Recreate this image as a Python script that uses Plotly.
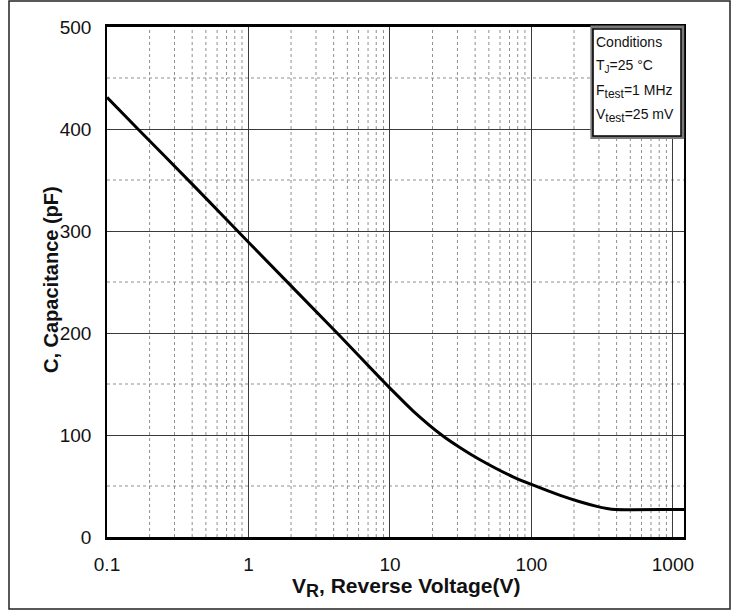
import math
import plotly.graph_objects as go

# Junction capacitance vs. reverse voltage at 25 °C
reverse_voltage = [0.1, 0.168, 0.4, 0.68, 1, 4.4, 8.5, 10, 14.6, 23.7, 31, 43, 74, 100,
                   158, 220, 290, 342, 390, 1000, 1200]
capacitance_pf = [431, 399, 346, 313, 289, 197.5, 156, 146, 123.5, 99, 88, 76, 59, 51.5,
                  41, 34.5, 30, 28, 27, 27, 27]

x_tick_vals = [0.1, 1, 10, 100, 1000]
x_tick_text = ["0.1", "1", "10", "100", "1000"]
y_tick_vals = [0, 100, 200, 300, 400, 500]
y_minor_vals = [50, 150, 250, 350, 450]
x_minor_vals = [m * d for d in (0.1, 1, 10, 100) for m in range(2, 10)]


def sub(s, px):
    return f'<sub><span style="font-size:{px}px">{s}</span></sub>'


conditions = ["Conditions",
              "T" + sub("J", 10) + "=25 °C",
              "F" + sub("test", 12) + "=1 MHz",
              "V" + sub("test", 12) + "=25 mV"]

W, H = 734, 611
ML, MR, MT, MB = 107, 50, 27, 74
PW, PH = W - ML - MR, H - MT - MB

FONT = "Liberation Sans, Arial, sans-serif"
INK = "#111111"


def px_x(px):
    return (px - ML) / PW


def px_y(py):
    return (MT + PH - py) / PH


fig = go.Figure()
fig.add_trace(go.Scatter(
    x=reverse_voltage, y=capacitance_pf, mode="lines",
    line=dict(color="black", width=3, shape="spline", smoothing=0.6),
    hoverinfo="skip", showlegend=False,
))

shapes = []
# dotted minor grid
for v in x_minor_vals:
    shapes.append(dict(type="line", xref="x", yref="y domain", x0=v, x1=v, y0=0, y1=1,
                       line=dict(color="#8f8f8f", width=1, dash="dot"), layer="below"))
for v in y_minor_vals:
    shapes.append(dict(type="line", xref="x domain", yref="y", x0=0, x1=1, y0=v, y1=v,
                       line=dict(color="#8f8f8f", width=1, dash="dot"), layer="below"))

# conditions box
bx0, bx1 = px_x(593), px_x(681)
by1, by0 = px_y(29), px_y(136)
shapes.append(dict(type="rect", xref="x domain", yref="y domain",
                   x0=bx0 - 0.002, x1=bx1 + 0.003, y0=by0 - 0.003, y1=by1 + 0.004,
                   line=dict(color="#7a7a7a", width=3), fillcolor="white", layer="above"))
shapes.append(dict(type="rect", xref="x domain", yref="y domain",
                   x0=bx0, x1=bx1, y0=by0, y1=by1,
                   line=dict(color="black", width=1.5), fillcolor="rgba(0,0,0,0)",
                   layer="above"))

# outer frame around the whole figure
shapes.append(dict(type="rect", xref="paper", yref="paper",
                   x0=px_x(9), x1=px_x(730), y0=px_y(609), y1=px_y(1),
                   line=dict(color="#222222", width=1.5)))

annotations = []
line_centers = [42, 66, 91, 115]
for txt, cy in zip(conditions, line_centers):
    annotations.append(dict(
        text=txt, xref="paper", yref="paper",
        x=px_x(594), y=px_y(cy),
        xanchor="left", yanchor="middle", showarrow=False, align="left",
        font=dict(family=FONT, size=14, color=INK),
    ))

# axis titles
annotations.append(dict(
    text="V" + sub("R", 18) + ", Reverse Voltage(V)", xref="paper", yref="paper",
    x=px_x(406), y=px_y(587), xanchor="center", yanchor="middle", showarrow=False,
    font=dict(family=FONT, size=21, color=INK, weight="bold"),
))
annotations.append(dict(
    text="C, Capacitance (pF)", xref="paper", yref="paper",
    x=px_x(51), y=px_y(280), xanchor="center", yanchor="middle", showarrow=False,
    textangle=-90, font=dict(family=FONT, size=20, color=INK, weight="bold"),
))

fig.update_layout(
    width=W, height=H,
    margin=dict(l=ML, r=MR, t=MT, b=MB, pad=0),
    paper_bgcolor="white", plot_bgcolor="white",
    shapes=shapes, annotations=annotations,
    font=dict(family=FONT, color=INK),
)

fig.update_xaxes(
    type="log", range=[-1, math.log10(1198)],
    tickvals=x_tick_vals, ticktext=x_tick_text,
    tickfont=dict(family=FONT, size=19, color=INK),
    ticks="", ticklabelstandoff=8,
    showgrid=True, gridcolor="#3a3a3a", gridwidth=1,
    showline=True, linecolor="black", linewidth=2.5, mirror=True,
    zeroline=False,
)
fig.update_yaxes(
    range=[0, 500], tickvals=y_tick_vals,
    tickfont=dict(family=FONT, size=19, color=INK),
    ticks="", ticklabelstandoff=10,
    showgrid=True, gridcolor="#3a3a3a", gridwidth=1,
    showline=True, linecolor="black", linewidth=1.5, mirror=True,
    zeroline=False,
)

fig.write_html("out.html")
